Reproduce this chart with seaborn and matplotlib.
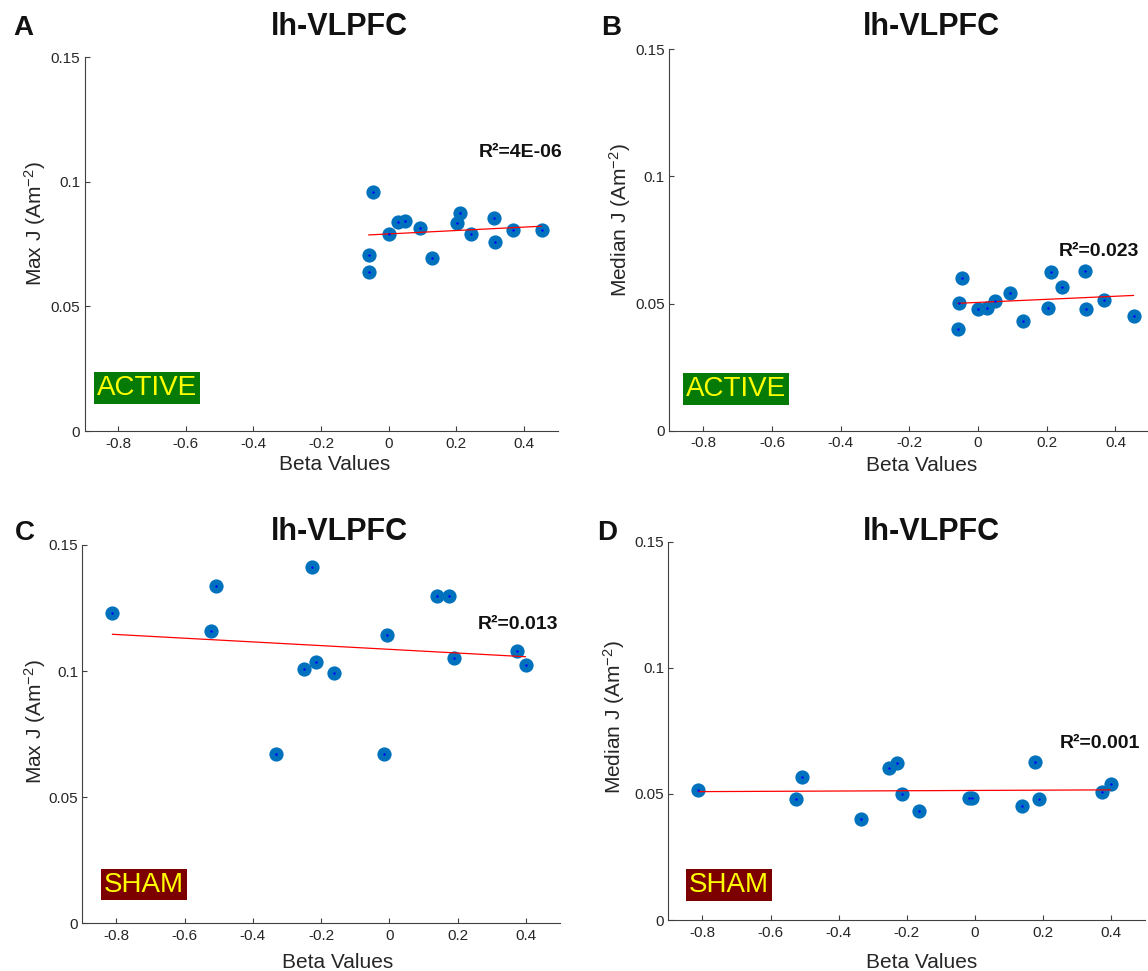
import numpy as np
import pandas as pd
import matplotlib
matplotlib.use('Agg')
import matplotlib.pyplot as plt
import seaborn as sns

# beta values per group (shared by the Max J and Median J panels)
beta_active = [-0.059, -0.057, -0.047, 0.000, 0.027, 0.050, 0.092, 0.130,
               0.204, 0.211, 0.243, 0.311, 0.314, 0.368, 0.453]
beta_sham = [-0.812, -0.524, -0.508, -0.333, -0.251, -0.228, -0.214, -0.163,
             -0.016, -0.007, 0.139, 0.176, 0.189, 0.375, 0.399]

# current density values (Am-2)
max_active = [0.0707, 0.0637, 0.0959, 0.0789, 0.0839, 0.0842, 0.0814, 0.0693,
              0.0834, 0.0874, 0.0789, 0.0855, 0.0757, 0.0806, 0.0807]
median_active = [0.0400, 0.0501, 0.0602, 0.0480, 0.0484, 0.0510, 0.0540, 0.0430,
                 0.0484, 0.0623, 0.0566, 0.0627, 0.0480, 0.0514, 0.0452]
max_sham = [0.1232, 0.1160, 0.1336, 0.0671, 0.1007, 0.1414, 0.1035, 0.0991,
            0.0671, 0.1144, 0.1296, 0.1296, 0.1052, 0.1078, 0.1026]
median_sham = [0.0515, 0.0478, 0.0568, 0.0400, 0.0604, 0.0624, 0.0501, 0.0431,
               0.0485, 0.0485, 0.0453, 0.0628, 0.0478, 0.0507, 0.0541]

# fitted line value at the smallest and largest beta
fit_max_active = [0.0787, 0.0822]
fit_median_active = [0.0501, 0.0532]
fit_max_sham = [0.1146, 0.1057]
fit_median_sham = [0.0509, 0.0516]

r2_labels = ['R²=4E-06', 'R²=0.023', 'R²=0.013', 'R²=0.001']
panel_letters = ['A', 'B', 'C', 'D']
region = 'lh-VLPFC'
x_ticks = [-0.8, -0.6, -0.4, -0.2, 0, 0.2, 0.4]
x_ticklabels = ['-0.8', '-0.6', '-0.4', '-0.2', '0', '0.2', '0.4']
y_ticks = [0, 0.05, 0.1, 0.15]
y_ticklabels = ['0', '0.05', '0.1', '0.15']

sns.set_style('ticks')
plt.rcParams['font.family'] = ['Liberation Sans', 'DejaVu Sans']
plt.rcParams['mathtext.fontset'] = 'custom'
plt.rcParams['mathtext.rm'] = 'Liberation Sans'
plt.rcParams['mathtext.default'] = 'regular'
plt.rcParams['axes.unicode_minus'] = False

W, H = 1148, 971
fig = plt.figure(figsize=(W / 100, H / 100), dpi=100)


def fx(x):
    return x / W


def fy(y):
    return 1 - y / H


panels = [
    # data, ylabel, group, axes box (l, t, r, b) in pixels
    dict(x=beta_active, y=max_active, fit=fit_max_active, ylab='Max J (Am$^{-2}$)',
         group='ACTIVE', gcol='#067a06', box=(84.5, 57.3, 557.5, 431),
         title=(339, 35), letter=(13, 35), r2=(562, 156.7), tag=(94, 395),
         xlab=(335, 470), ylab_pos=(42, 224)),
    dict(x=beta_active, y=median_active, fit=fit_median_active, ylab='Median J (Am$^{-2}$)',
         group='ACTIVE', gcol='#067a06', box=(669, 49.3, 1149.8, 430.7),
         title=(931.6, 35), letter=(601, 35), r2=(1139, 256), tag=(683, 396),
         xlab=(922, 471), ylab_pos=(627, 220)),
    dict(x=beta_sham, y=max_sham, fit=fit_max_sham, ylab='Max J (Am$^{-2}$)',
         group='SHAM', gcol='#7d0000', box=(82.3, 545, 560, 923.3),
         title=(339, 540), letter=(15, 540), r2=(558, 629), tag=(101.4, 891.7),
         xlab=(338, 968), ylab_pos=(42, 722)),
    dict(x=beta_sham, y=median_sham, fit=fit_median_sham, ylab='Median J (Am$^{-2}$)',
         group='SHAM', gcol='#7d0000', box=(668.4, 541.7, 1145, 920),
         title=(931.6, 540), letter=(597, 540), r2=(1140.6, 747.7), tag=(686.4, 892),
         xlab=(922, 968), ylab_pos=(621, 717.5)),
]

for i, p in enumerate(panels):
    l, t, r, b = p['box']
    ax = fig.add_axes([fx(l), fy(b), (r - l) / W, (b - t) / H])
    df = pd.DataFrame({'beta': p['x'], 'j': p['y']})

    sns.scatterplot(data=df, x='beta', y='j', s=105, color='#0072BD', linewidth=0,
                    ax=ax, zorder=2)
    sns.lineplot(x=[min(p['x']), max(p['x'])], y=p['fit'], color='#ff0000',
                 linewidth=0.9, ax=ax, zorder=3)
    sns.scatterplot(data=df, x='beta', y='j', s=3, color='#0000ff', linewidth=0,
                    ax=ax, zorder=4)

    ax.set_xlim(-0.9, 0.5)
    ax.set_ylim(0, 0.15)
    ax.set_xticks(x_ticks)
    ax.set_xticklabels(x_ticklabels)
    ax.set_yticks(y_ticks)
    ax.set_yticklabels(y_ticklabels)
    sns.despine(ax=ax)
    for s in ['left', 'bottom']:
        ax.spines[s].set_color('#404040')
        ax.spines[s].set_linewidth(0.8)
    ax.tick_params(direction='in', length=3.5, width=0.8, colors='#404040',
                   labelcolor='#262626', labelsize=11)
    ax.tick_params(axis='x', pad=4)
    ax.tick_params(axis='y', pad=3)

    ax.set_xlabel('Beta Values', fontsize=15, color='#262626')
    ax.xaxis.set_label_coords(fx(p['xlab'][0]), fy(p['xlab'][1]), transform=fig.transFigure)
    ax.xaxis.label.set_va('baseline')
    ax.set_ylabel(p['ylab'], fontsize=15, color='#262626')
    ax.yaxis.set_label_coords(fx(p['ylab_pos'][0]), fy(p['ylab_pos'][1]), transform=fig.transFigure)
    ax.yaxis.label.set_va('baseline')

    fig.text(fx(p['title'][0]), fy(p['title'][1]), region, ha='center', va='baseline',
             fontsize=22, fontweight='bold', color='#111111')
    fig.text(fx(p['letter'][0]), fy(p['letter'][1]), panel_letters[i], ha='left',
             va='baseline', fontsize=20, fontweight='bold', color='#111111')
    fig.text(fx(p['r2'][0]), fy(p['r2'][1]), r2_labels[i], ha='right', va='baseline',
             fontsize=14, fontweight='bold', color='#111111')
    fig.text(fx(p['tag'][0] + 2.8), fy(p['tag'][1]), p['group'], ha='left', va='baseline',
             fontsize=20, color='#ffff00',
             bbox=dict(boxstyle='square,pad=0.1', fc=p['gcol'], ec='none'))

fig.savefig('out.png', dpi=100)
